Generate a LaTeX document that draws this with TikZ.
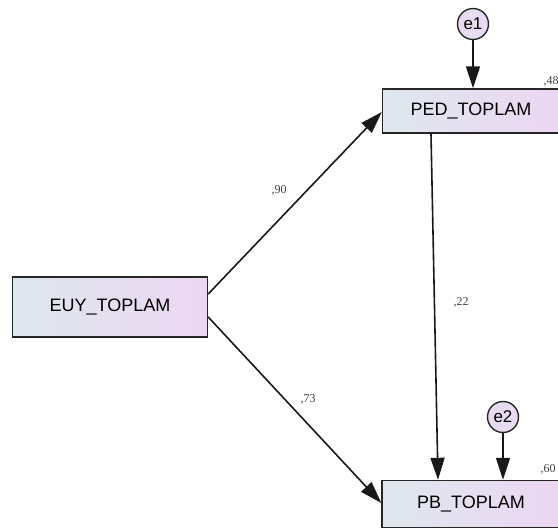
\documentclass[tikz,border=0pt]{standalone}
\usepackage{fontspec}
\setmainfont{Liberation Serif}
\newfontfamily\varfont{Liberation Sans}
\usetikzlibrary{arrows.meta}
\definecolor{boxleft}{RGB}{222,232,238}
\definecolor{boxright}{RGB}{236,214,242}
\definecolor{errfill}{RGB}{232,220,242}

\begin{document}
\begin{tikzpicture}[x=1pt, y=-1pt, >={Triangle[length=22pt,width=14pt]},
  var/.style={draw=black!85, line width=1.4pt, rectangle, left color=boxleft, right color=boxright, font=\varfont\fontsize{18}{20}\selectfont, inner sep=0pt},
  err/.style={draw=black!85, line width=1.4pt, circle, fill=errfill, minimum size=31pt, inner sep=0pt, font=\varfont\fontsize{17}{19}\selectfont},
  path/.style={->, line width=1.6pt, black!90},
  coef/.style={font=\fontsize{12}{14}\selectfont, text=black!75}]
  \useasboundingbox (0,0) rectangle (558,529);
  \node[var, minimum width=195pt, minimum height=60pt] (euy) at (110,307) {EUY\_TOPLAM};
  \node[var, minimum width=177pt, minimum height=44pt] (ped) at (471,111) {PED\_TOPLAM};
  \node[var, minimum width=178pt, minimum height=47pt] (pb) at (471,504) {PB\_TOPLAM};
  \node[err] (e1) at (473,24) {e1};
  \node[err] (e2) at (503,417) {e2};

  % paths
  \draw[path] ([yshift=13pt]euy.east) -- ([yshift=-1pt]ped.west);
  \draw[path] ([yshift=-10pt]euy.east) -- ([yshift=1pt]pb.west);
  \draw[path] ([xshift=-40pt]ped.south) -- ([xshift=-33pt]pb.north);
  \draw[path] (e1) -- ([xshift=2pt]ped.north);
  \draw[path] (e2) -- ([xshift=32pt]pb.north);

  \node[coef] (c90) at (279,190) {,90};
  \node[coef] (c73) at (308,399) {,73};
  \node[coef] (c22) at (461,302) {,22};
  \node[coef] (c48) at (551,81) {,48};
  \node[coef] (c60) at (548,469) {,60};
\end{tikzpicture}
\end{document}
